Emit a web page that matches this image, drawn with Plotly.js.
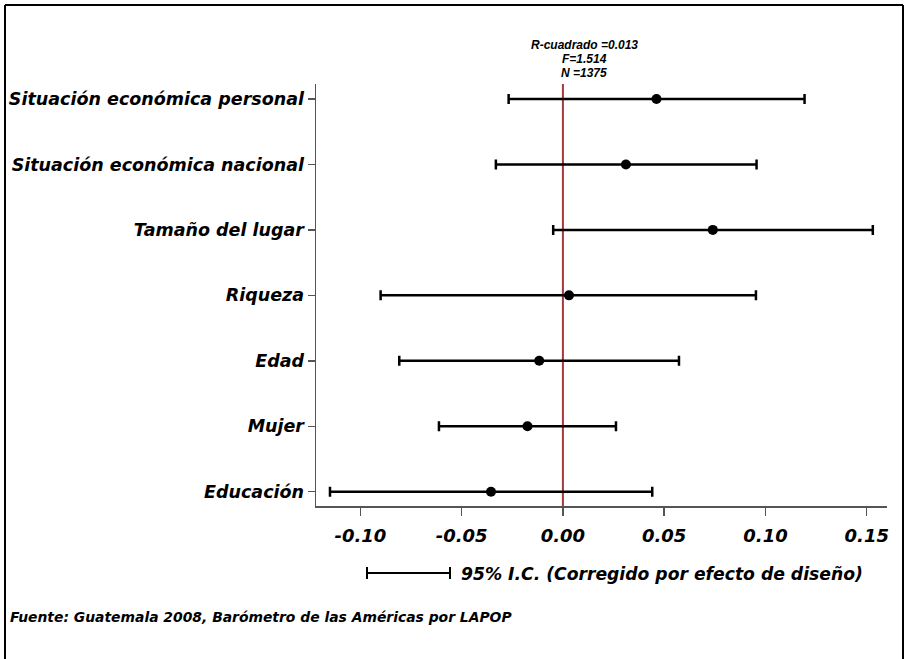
<!DOCTYPE html>
<html>
<head>
<meta charset="utf-8">
<script src="https://cdn.plot.ly/plotly-3.0.1.min.js"></script>
<style>html,body{margin:0;padding:0;background:#fff;}#chart{width:904px;height:659px;}</style>
</head>
<body>
<div id="chart"></div>
<script>
var categories = ["Educación", "Mujer", "Edad", "Riqueza", "Tamaño del lugar", "Situación económica nacional", "Situación económica personal"];
var coef  = [-0.0355, -0.0175, -0.0117, 0.0030, 0.0740, 0.0311, 0.0462];
var lower = [-0.1150, -0.0612, -0.0808, -0.0900, -0.0048, -0.0331, -0.0268];
var upper = [0.0441, 0.0262, 0.0573, 0.0953, 0.1530, 0.0956, 0.1193];
var xTickVals = [-0.10, -0.05, 0.00, 0.05, 0.10, 0.15];
var xTickText = ["-0.10", "-0.05", "0.00", "0.05", "0.10", "0.15"];
var statsLines = ["R-cuadrado =0.013", "F=1.514", "N =1375"];
var legendText = "95% I.C. (Corregido por efecto de diseño)";
var sourceText = "Fuente: Guatemala 2008, Barómetro de las Américas por LAPOP";

var yIdx = categories.map(function(c, i){ return i; });
var errPlus = upper.map(function(u, i){ return u - coef[i]; });
var errMinus = lower.map(function(l, i){ return coef[i] - l; });

var FONT = "Liberation Sans, Arial, sans-serif";
var WIDE = "DejaVu Sans, Verdana, sans-serif";
function bi(t){ return "<b><i>" + t + "</i></b>"; }

var trace = {
  type: "scatter", mode: "markers",
  x: coef, y: yIdx,
  marker: {color: "#000", size: 10},
  error_x: {type: "data", symmetric: false, array: errPlus, arrayminus: errMinus,
            color: "#000", thickness: 2.5, width: 5},
  hoverinfo: "none", showlegend: false
};

var L = 316, R = 887, T = 84, B = 506;
function px(x){ return (x - L) / (R - L); }
function py(y){ return (B - y) / (B - T); }

var shapes = [
  {type: "line", xref: "x", yref: "paper", x0: 0, x1: 0, y0: 0, y1: 1,
   line: {color: "#a33a3a", width: 2}, layer: "below"},
  {type: "line", xref: "paper", yref: "paper", x0: px(5), x1: px(903), y0: py(5), y1: py(5), line: {color: "#000", width: 2}},
  {type: "line", xref: "paper", yref: "paper", x0: px(5), x1: px(5), y0: py(5), y1: py(670), line: {color: "#000", width: 2}},
  {type: "line", xref: "paper", yref: "paper", x0: px(903), x1: px(903), y0: py(5), y1: py(670), line: {color: "#000", width: 2}},
  {type: "line", xref: "paper", yref: "paper", x0: px(367), x1: px(450), y0: py(573), y1: py(573), line: {color: "#000", width: 2}},
  {type: "line", xref: "paper", yref: "paper", x0: px(367), x1: px(367), y0: py(567), y1: py(579), line: {color: "#000", width: 2}},
  {type: "line", xref: "paper", yref: "paper", x0: px(450), x1: px(450), y0: py(567), y1: py(579), line: {color: "#000", width: 2}}
];

var annotations = [];
var statY = [45, 59, 73];
statsLines.forEach(function(t, i){
  annotations.push({xref: "paper", yref: "paper", x: px(584), y: py(statY[i]), text: bi(t),
    showarrow: false, xanchor: "center", yanchor: "middle", font: {family: FONT, size: 12, color: "#000"}});
});
annotations.push({xref: "paper", yref: "paper", x: px(459), y: py(574), text: bi(legendText),
  showarrow: false, xanchor: "left", yanchor: "middle", font: {family: WIDE, size: 17.2, color: "#000"}});
annotations.push({xref: "paper", yref: "paper", x: px(8), y: py(617), text: bi(sourceText),
  showarrow: false, xanchor: "left", yanchor: "middle", font: {family: WIDE, size: 13.9, color: "#000"}});

var layout = {
  width: 904, height: 659,
  margin: {l: L, r: 904 - R, t: T, b: 659 - B, pad: 0},
  paper_bgcolor: "#fff", plot_bgcolor: "#fff",
  showlegend: false,
  xaxis: {range: [-0.1219, 0.1600], tickvals: xTickVals, ticktext: xTickText.map(bi),
          showgrid: false, zeroline: false, showline: true, linecolor: "#555", linewidth: 1.5,
          ticks: "outside", ticklen: 8, tickcolor: "#555", tickwidth: 1.5, ticklabelstandoff: 5,
          tickfont: {family: WIDE, size: 18, color: "#000"}, fixedrange: true},
  yaxis: {range: [-0.218, 6.229], tickvals: yIdx, ticktext: categories.map(bi),
          showgrid: false, zeroline: false, showline: true, linecolor: "#555", linewidth: 1.5,
          ticks: "outside", ticklen: 7, tickcolor: "#555", tickwidth: 1.5,
          tickfont: {family: WIDE, size: 17.5, color: "#000"}, fixedrange: true},
  shapes: shapes,
  annotations: annotations
};

Plotly.newPlot("chart", [trace], layout, {displayModeBar: false, staticPlot: true});
</script>
</body>
</html>
